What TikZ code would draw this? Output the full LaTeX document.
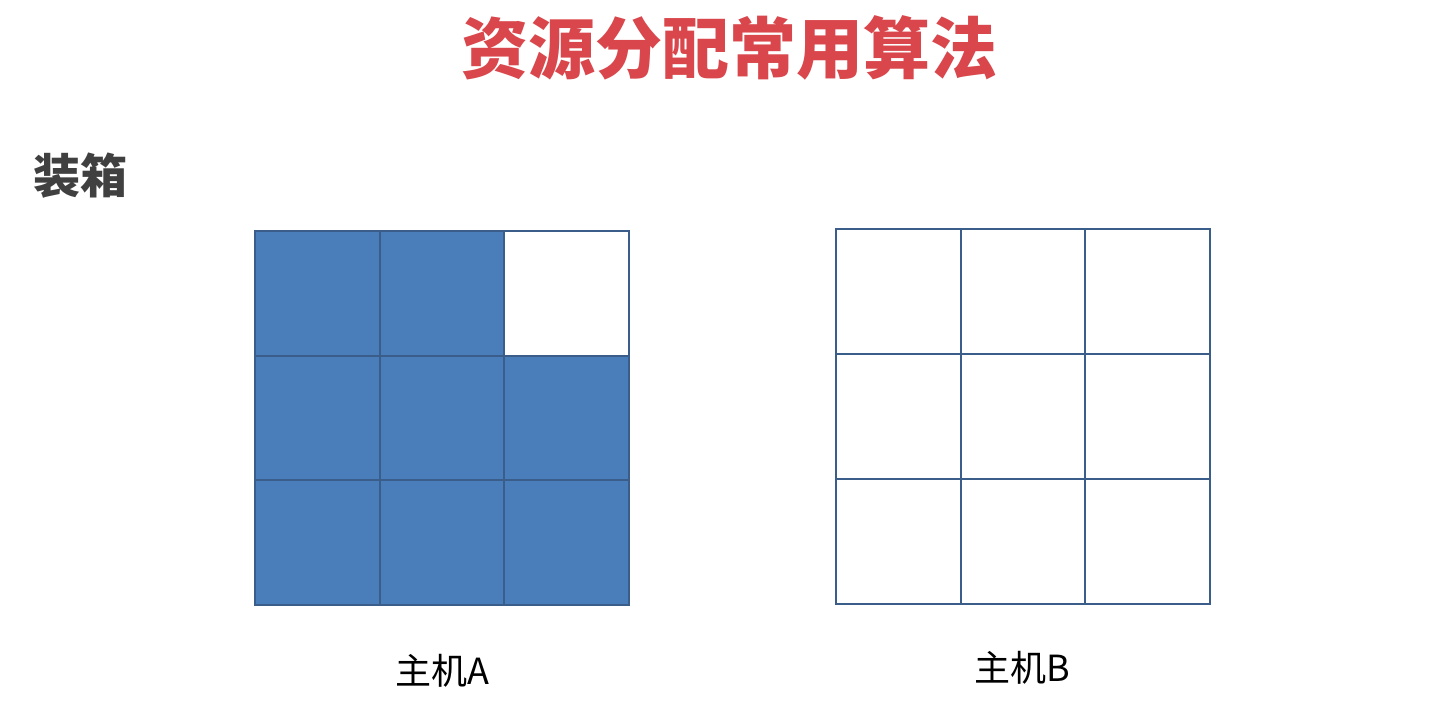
\documentclass[tikz,border=0pt]{standalone}
\usepackage{fontspec}
\newfontfamily\cjk{Noto Sans CJK SC}
\definecolor{titlered}{HTML}{D9464B}
\definecolor{headgray}{HTML}{404040}
\definecolor{cellfill}{HTML}{4A7EBB}
\definecolor{celledge}{HTML}{3A5D8A}
\tikzset{
  cellbox/.style={minimum size=124.7pt, inner sep=0pt},
  usedcell/.style={cellbox, fill=cellfill},
  freecell/.style={cellbox, fill=white},
  celledge/.style={draw=celledge, line width=1.7pt},
  hostlabel/.style={font=\cjk\fontsize{36}{42}\selectfont, text=black}
}
\begin{document}
\begin{tikzpicture}[x=1pt,y=-1pt]
    \useasboundingbox[fill=white] (0,0) rectangle (1441,720);
    % Title and heading
    \node[font=\cjk\bfseries\fontsize{67}{76}\selectfont, text=titlered] (title) at (729,48) {资源分配常用算法};
    \node[font=\cjk\bfseries\fontsize{47}{52}\selectfont, text=headgray] (heading) at (81,176) {装箱};
    % Host A: eight cells used, top right free
    \foreach \r in {1,2,3}
      \foreach \c in {1,2,3} {
        \ifnum\r\c=13
          \node[freecell] (a-\r-\c) at ({255+62.35+(\c-1)*124.7},{231+62.35+(\r-1)*124.7}) {};
        \else
          \node[usedcell] (a-\r-\c) at ({255+62.35+(\c-1)*124.7},{231+62.35+(\r-1)*124.7}) {};
        \fi
      }
    % Host B: all cells free
    \foreach \r in {1,2,3}
      \foreach \c in {1,2,3}
        \node[freecell] (b-\r-\c) at ({836+62.35+(\c-1)*124.7},{229.5+62.35+(\r-1)*124.7}) {};
    % Cell borders on top
    \foreach \h in {a,b}
      \foreach \r in {1,2,3}
        \foreach \c in {1,2,3}
          \draw[celledge] (\h-\r-\c.north west) rectangle (\h-\r-\c.south east);
    % Labels
    \node[hostlabel] (hostA) at (442,671) {主机A};
    \node[hostlabel] (hostB) at (1022,668) {主机B};
\end{tikzpicture}
\end{document}
